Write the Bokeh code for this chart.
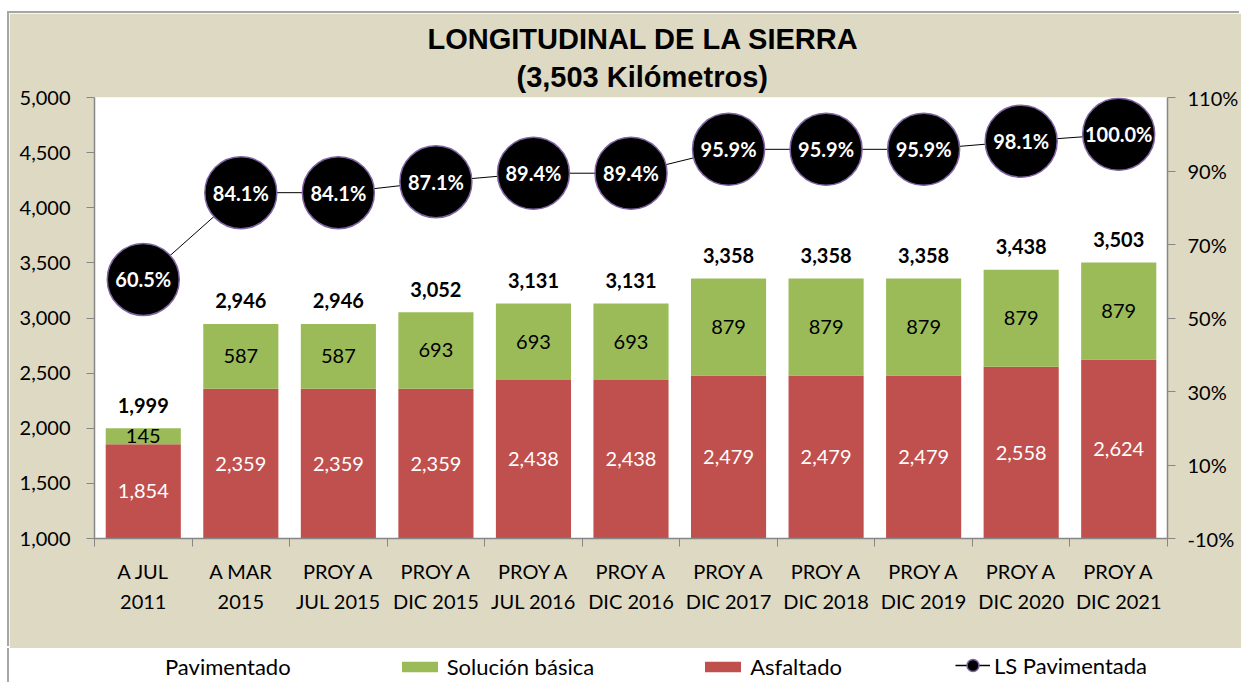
from bokeh.plotting import figure
from bokeh.models import (Range1d, LinearAxis, FixedTicker, NumeralTickFormatter,
                          PrintfTickFormatter, ColumnDataSource, Legend, LegendItem, Title)
from bokeh.layouts import column
from bokeh.embed import file_html
from bokeh.resources import INLINE
from bokeh.core.properties import value

categories = ["A JUL\n2011", "A MAR\n2015", "PROY A\nJUL 2015", "PROY A\nDIC 2015",
              "PROY A\nJUL 2016", "PROY A\nDIC 2016", "PROY A\nDIC 2017", "PROY A\nDIC 2018",
              "PROY A\nDIC 2019", "PROY A\nDIC 2020", "PROY A\nDIC 2021"]
asfaltado = [1854, 2359, 2359, 2359, 2438, 2438, 2479, 2479, 2479, 2558, 2624]
solucion_basica = [145, 587, 587, 693, 693, 693, 879, 879, 879, 879, 879]
pavimentado = [1999, 2946, 2946, 3052, 3131, 3131, 3358, 3358, 3358, 3438, 3503]
ls_pavimentada = [60.5, 84.1, 84.1, 87.1, 89.4, 89.4, 95.9, 95.9, 95.9, 98.1, 100.0]
left_ticks = [1000, 1500, 2000, 2500, 3000, 3500, 4000, 4500, 5000]
right_ticks = [-10, 10, 30, 50, 70, 90, 110]

RED = "#C0504D"
GREEN = "#9BBB59"
BEIGE = "#DDD9C3"
PURPLE = "#7F64A2"
AXIS_GRAY = "#868686"
FONT = "Lato"

n = len(categories)
xs = list(range(n))
y_start, y_end = left_ticks[0], left_ticks[-1]

src = ColumnDataSource(dict(
    x=xs,
    asf=asfaltado,
    sol=solucion_basica,
    sol_top=[a + s for a, s in zip(asfaltado, solucion_basica)],
    asf_mid=[(y_start + a) / 2 for a in asfaltado],
    sol_mid=[a + s / 2 for a, s in zip(asfaltado, solucion_basica)],
    asf_lbl=[f"{a:,}" for a in asfaltado],
    sol_lbl=[f"{s:,}" for s in solucion_basica],
    pav=pavimentado,
    pav_lbl=[f"{t:,}" for t in pavimentado],
    pct=ls_pavimentada,
    pct_lbl=[f"{v:.1f}%" for v in ls_pavimentada],
))

p = figure(width=1232, height=635, x_range=Range1d(-0.5, n - 0.5),
           y_range=Range1d(y_start, y_end), toolbar_location=None,
           output_backend="svg", title=None,
           min_border_left=85, min_border_right=74, min_border_top=84,
           min_border_bottom=110, border_fill_color=BEIGE,
           background_fill_color="white", outline_line_color=None,
           margin=(13, 0, 0, 9),
           styles={"box-shadow": "-2px -2px 0px 0px #A6A6A6"})

p.extra_y_ranges = {"pct": Range1d(right_ticks[0], right_ticks[-1])}

# titles
p.add_layout(Title(text="(3,503 Kilómetros)", align="left", text_font="Liberation Sans",
                   text_font_size="29px", text_font_style="bold", text_color="black",
                   standoff=10, offset=422), "above")
p.add_layout(Title(text="LONGITUDINAL DE LA SIERRA", align="left", text_font="Liberation Sans",
                   text_font_size="29px", text_font_style="bold", text_color="black",
                   standoff=-2, offset=333), "above")

# bars
p.vbar(x="x", bottom=0, top="asf", width=0.77, source=src, fill_color=RED, line_color=None)
p.vbar(x="x", bottom="asf", top="sol_top", width=0.77, source=src, fill_color=GREEN, line_color=None)

# bar labels
p.text(x="x", y="asf_mid", text="asf_lbl", source=src, text_color="white",
       text_font=value(FONT), text_font_size="20px", text_align="center", text_baseline="middle")
p.text(x="x", y="sol_mid", text="sol_lbl", source=src, text_color="black",
       text_font=value(FONT), text_font_size="20px", text_align="center", text_baseline="middle")
p.text(x="x", y="pav", text="pav_lbl", source=src, text_color="black",
       text_font=value(FONT), text_font_size="20px", text_font_style="bold",
       text_align="center", text_baseline="middle", y_offset=-23)

# percentage line
p.line(x="x", y="pct", source=src, y_range_name="pct", line_color="black", line_width=1)
p.scatter(x="x", y="pct", source=src, y_range_name="pct", size=72, fill_color="black",
          line_color=PURPLE, line_width=1.5)
p.text(x="x", y="pct", text="pct_lbl", source=src, y_range_name="pct", text_color="white",
       text_font=value(FONT), text_font_size="20px", text_font_style="bold",
       text_align="center", text_baseline="middle")

# axes
p.xgrid.visible = False
p.ygrid.visible = False

yax = p.yaxis[0]
yax.ticker = FixedTicker(ticks=left_ticks, minor_ticks=[])
yax.formatter = NumeralTickFormatter(format="0,0")

xax = p.xaxis[0]
xax.ticker = FixedTicker(ticks=xs, minor_ticks=[i - 0.5 for i in range(n + 1)])
xax.major_label_overrides = {i: c for i, c in enumerate(categories)}
xax.major_tick_line_color = None
xax.minor_tick_in = 0
xax.minor_tick_out = 8
xax.minor_tick_line_color = AXIS_GRAY
xax.major_label_text_line_height = 1.25

rax = LinearAxis(y_range_name="pct", ticker=FixedTicker(ticks=right_ticks, minor_ticks=[]),
                 formatter=PrintfTickFormatter(format="%d%%"))
p.add_layout(rax, "right")

for ax in (yax, xax, rax):
    ax.axis_line_color = AXIS_GRAY
    ax.axis_line_width = 1.5
    ax.major_label_text_font = FONT
    ax.major_label_text_font_size = "20px"
    ax.major_label_text_color = "black"
for ax in (yax, rax):
    ax.major_tick_line_color = AXIS_GRAY
    ax.major_tick_in = 0
    ax.major_tick_out = 8
    ax.minor_tick_line_color = None
yax.major_label_standoff = 16
rax.major_label_standoff = 12
xax.major_label_standoff = 12

# legend strip
q = figure(width=1232, height=34, x_range=Range1d(0, 1), y_range=Range1d(0, 1),
           toolbar_location=None, output_backend="svg", min_border=0,
           border_fill_color="white", background_fill_color="white",
           outline_line_color=None, margin=(0, 0, 0, 9),
           styles={"box-shadow": "-2px 0px 0px 0px #A6A6A6"})
q.axis.visible = False
q.grid.visible = False
r_pav = q.vbar(x=[-5], top=[-5], width=0.1, fill_alpha=0, line_alpha=0)
r_sol = q.vbar(x=[-5], top=[-5], width=0.1, fill_color=GREEN, line_color=None)
r_asf = q.vbar(x=[-5], top=[-5], width=0.1, fill_color=RED, line_color=None)
r_ln = q.line(x=[-5, -4], y=[-5, -5], line_color="black", line_width=1.5)
r_sc = q.scatter(x=[-5], y=[-5], size=12, fill_color="black", line_color=PURPLE, line_width=1.5)

legend_style = dict(orientation="horizontal", padding=0, margin=0, border_line_color=None,
                    background_fill_alpha=0, label_text_font=FONT, label_text_font_size="22px",
                    label_text_color="black")
legend = Legend(items=[
    LegendItem(label="Pavimentado", renderers=[r_pav]),
    LegendItem(label="Solución básica", renderers=[r_sol]),
    LegendItem(label="Asfaltado", renderers=[r_asf]),
], location=(21, 2), spacing=106, glyph_width=45, glyph_height=13, label_standoff=5,
    label_height=26, **legend_style)
legend_ls = Legend(items=[
    LegendItem(label="LS Pavimentada", renderers=[r_ln, r_sc]),
], location=(861, 2), glyph_width=35, glyph_height=30, label_standoff=4,
    label_height=26, **legend_style)
q.add_layout(legend)
q.add_layout(legend_ls)

layout = column(p, q, spacing=0)
open("out.html", "w").write(file_html(layout, INLINE))
